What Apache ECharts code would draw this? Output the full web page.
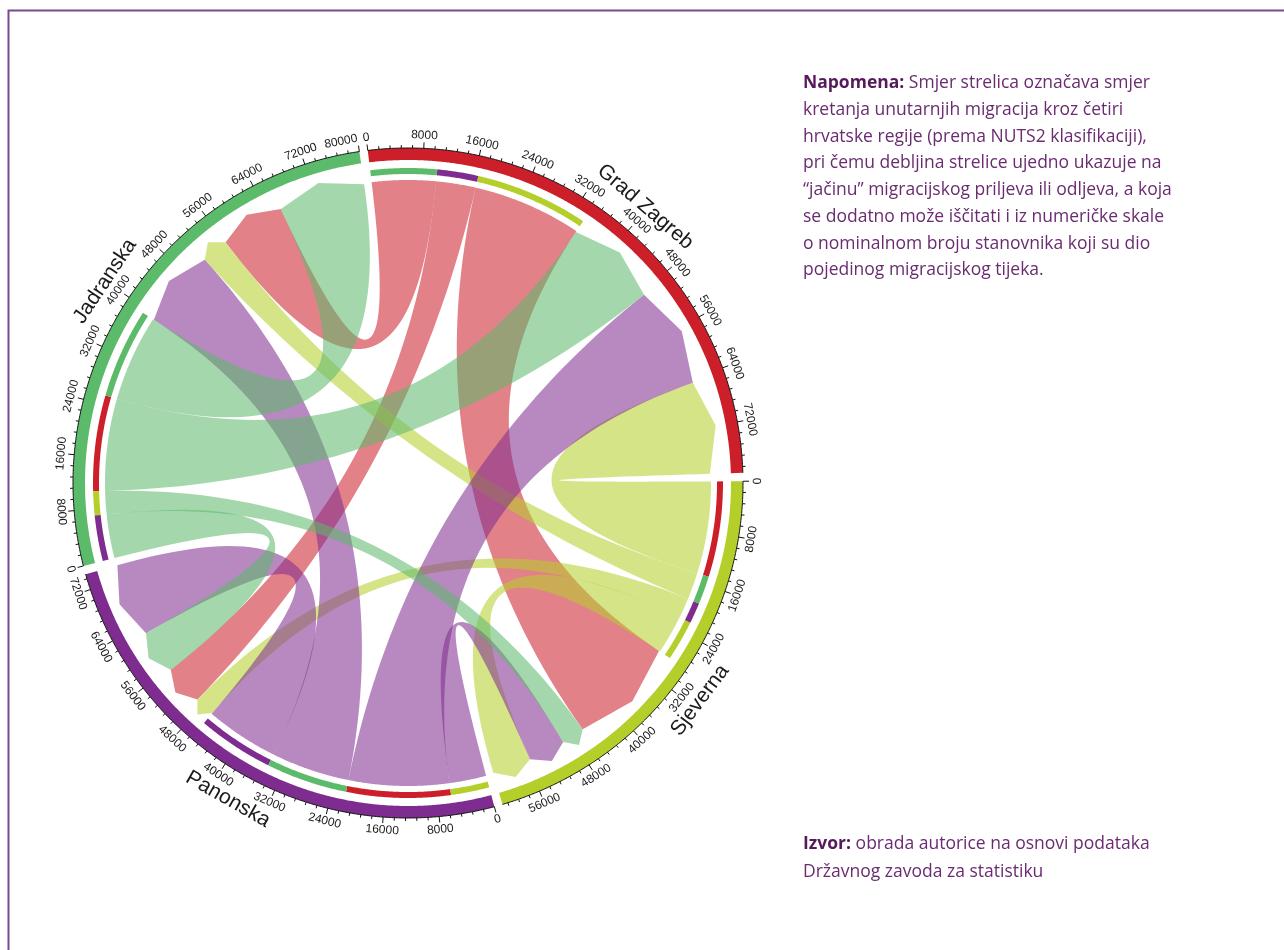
<!DOCTYPE html>
<html>
<head>
<meta charset="utf-8">
<title>Unutarnje migracije po NUTS2 regijama</title>
<script src="https://cdn.jsdelivr.net/npm/echarts@6/dist/echarts.min.js"></script>
<style>
  html, body { margin: 0; padding: 0; background: #fff; }
  #chart { width: 1284px; height: 950px; }
</style>
</head>
<body>
<div id="chart"></div>
<script>
// regije, redom u smjeru kazaljke na satu od vrha
const regions = ['Grad Zagreb', 'Sjeverna', 'Panonska', 'Jadranska']
// migracije: redak = odakle, stupac = kamo (redoslijed kao regions)
const fromZagreb = [0, 17400, 6300, 10200]
const fromSjeverna = [14700, 6200, 3200, 4300]
const fromPanonska = [16000, 5900, 11700, 12500]
const fromJadranska = [14700, 3700, 7000, 13800]
const flows = [fromZagreb, fromSjeverna, fromPanonska, fromJadranska]
// skala na obodu
const majorStep = 8000
const minorStep = 1600

const colors = ['#cd1f2a', '#b5cf2a', '#7e2c8f', '#5cba6b']

function sum(a) {
  return a.reduce((s, v) => s + v, 0)
}

const n = regions.length
const totals = regions.map((_, i) => sum(flows[i]) + sum(flows.map((row) => row[i])))
const flowTotal = sum(totals)
const gapDeg = 1.45
const gapUnits = (gapDeg / (360 - n * gapDeg)) * flowTotal
const circleUnits = flowTotal + n * gapUnits
const unitsPerRad = circleUnits / (2 * Math.PI)

const sectorStart = []
let acc = 0
for (let i = 0; i < n; i++) {
  sectorStart.push(acc)
  acc += totals[i] + gapUnits
}

// raspored krajeva veza unutar svake regije
const outSpan = {}
const inSpan = {}
for (let i = 0; i < n; i++) {
  const order = [1, 2, 3, 0].map((d) => (i + n - d) % n)
  let p = sectorStart[i]
  order.forEach((k) => {
    const v = flows[i][k]
    if (v > 0) {
      outSpan[i + '_' + k] = [p, p + v]
      p += v
    }
  })
  order.forEach((k) => {
    const v = flows[k][i]
    if (v > 0) {
      inSpan[k + '_' + i] = [p, p + v]
      p += v
    }
  })
}
const links = []
for (let i = 0; i < n; i++) {
  for (let k = 0; k < n; k++) {
    if (flows[i][k] > 0) {
      links.push({ src: i, tgt: k, s: outSpan[i + '_' + k], t: inSpan[i + '_' + k] })
    }
  }
}

const R = {
  ring: [323, 335],
  bar: [309, 315],
  src: 303,
  tgtBase: 302,
  tgtTip: 313,
  tickMajor: 341,
  tickMinor: 338,
  tickLabel: 348,
  name: 364,
}

function arc(api, r, u0, u1) {
  const steps = Math.max(2, Math.ceil(Math.abs(u1 - u0) / 200))
  const pts = []
  for (let j = 0; j <= steps; j++) {
    const p = api.coord([r, u0 + ((u1 - u0) * j) / steps])
    pts.push([p[0], p[1]])
  }
  return pts
}
function band(api, r0, r1, u0, u1) {
  return arc(api, r1, u0, u1).concat(arc(api, r0, u1, u0))
}
// kvadratna krivulja kroz središte kruga
function bezier(p0, c, p2) {
  const pts = []
  for (let j = 1; j <= 48; j++) {
    const t = j / 48
    const a = (1 - t) * (1 - t)
    const b = 2 * (1 - t) * t
    const d = t * t
    pts.push([a * p0[0] + b * c[0] + d * p2[0], a * p0[1] + b * c[1] + d * p2[1]])
  }
  return pts
}
// tangencijalni tekst, okrenut da se čita (donja polovica obrnuta)
function textRotation(p, c) {
  const a = p[3]
  return p[1] > c[1] + 0.5 ? a + Math.PI / 2 : a - Math.PI / 2
}

const chart = echarts.init(document.getElementById('chart'))

const textFont = 'Open Sans, Noto Sans, sans-serif'

const option = {
  animation: false,
  backgroundColor: '#fff',
  polar: { center: [408, 483], radius: 335 },
  angleAxis: {
    type: 'value',
    min: 0,
    max: circleUnits,
    startAngle: 96.9,
    clockwise: true,
    axisLine: { show: false },
    axisTick: { show: false },
    axisLabel: { show: false },
    splitLine: { show: false },
  },
  radiusAxis: {
    type: 'value',
    min: 0,
    max: 335,
    axisLine: { show: false },
    axisTick: { show: false },
    axisLabel: { show: false },
    splitLine: { show: false },
  },
  series: [
    // veze (strelice)
    {
      type: 'custom',
      coordinateSystem: 'polar',
      z: 1,
      data: links.map((l) => [l.src, l.tgt]),
      renderItem(params, api) {
        const l = links[params.dataIndex]
        const c = api.coord([0, 0])
        const src = arc(api, R.src, l.s[0], l.s[1])
        const a = api.coord([R.tgtBase, l.t[0]])
        const tip = api.coord([R.tgtTip, (l.t[0] + l.t[1]) / 2])
        const b = api.coord([R.tgtBase, l.t[1]])
        let pts = src.slice()
        pts = pts.concat(bezier(src[src.length - 1], c, [a[0], a[1]]))
        pts.push([tip[0], tip[1]])
        pts.push([b[0], b[1]])
        pts = pts.concat(bezier([b[0], b[1]], c, src[0]))
        return {
          type: 'polygon',
          shape: { points: pts },
          style: { fill: colors[l.src], opacity: 0.56 },
        }
      },
    },
    // unutarnje trake: boja odredišta
    {
      type: 'custom',
      coordinateSystem: 'polar',
      z: 2,
      data: links.map((l) => [l.src, l.tgt]),
      renderItem(params, api) {
        const l = links[params.dataIndex]
        return {
          type: 'polygon',
          shape: { points: band(api, R.bar[0], R.bar[1], l.s[0], l.s[1]) },
          style: { fill: colors[l.tgt] },
        }
      },
    },
    // vanjski prsten, skala i nazivi regija
    {
      type: 'custom',
      coordinateSystem: 'polar',
      z: 3,
      data: regions.map((_, i) => [i, totals[i]]),
      renderItem(params, api) {
        const i = params.dataIndex
        const u0 = sectorStart[i]
        const u1 = u0 + totals[i]
        const c = api.coord([0, 0])
        const children = [
          {
            type: 'polygon',
            shape: { points: band(api, R.ring[0], R.ring[1], u0, u1) },
            style: { fill: colors[i] },
          },
          {
            type: 'polyline',
            shape: { points: arc(api, R.ring[1], u0, u1) },
            style: { stroke: '#111', lineWidth: 1, fill: null },
          },
        ]
        const count = Math.floor(totals[i] / minorStep)
        for (let j = 0; j <= count; j++) {
          const v = j * minorStep
          const major = v % majorStep === 0
          const p1 = api.coord([R.ring[1], u0 + v])
          const p2 = api.coord([major ? R.tickMajor : R.tickMinor, u0 + v])
          children.push({
            type: 'line',
            shape: { x1: p1[0], y1: p1[1], x2: p2[0], y2: p2[1] },
            style: { stroke: '#111', lineWidth: 1 },
          })
          if (major) {
            const label = String(v)
            // zadnja oznaka ne smije prijeći kraj sektora
            const half = ((label.length * 6.7) / 2 / R.tickLabel) * unitsPerRad
            const at = v > 0 && v + half > totals[i] ? totals[i] - half : v
            const pl = api.coord([R.tickLabel, u0 + at])
            children.push({
              type: 'text',
              x: pl[0],
              y: pl[1],
              rotation: textRotation(pl, c),
              style: {
                text: label,
                fontSize: 12,
                fontFamily: 'Liberation Sans, Arial, sans-serif',
                fill: '#1a1a1a',
                align: 'center',
                verticalAlign: 'middle',
              },
            })
          }
        }
        const pn = api.coord([R.name, (u0 + u1) / 2])
        children.push({
          type: 'text',
          x: pn[0],
          y: pn[1],
          rotation: textRotation(pn, c),
          style: {
            text: regions[i],
            fontSize: 21,
            fontFamily: 'Liberation Sans, Arial, sans-serif',
            fill: '#1a1a1a',
            align: 'center',
            verticalAlign: 'middle',
          },
        })
        return { type: 'group', children }
      },
    },
  ],
  graphic: [
    {
      type: 'polyline',
      shape: { points: [[8.5, 950], [8.5, 10.5], [1284, 10.5]] },
      style: { stroke: '#7b4a8e', lineWidth: 2, fill: null },
    },
    {
      type: 'text',
      x: 803,
      y: 70,
      style: {
        text:
          '{b|Napomena:} Smjer strelica označava smjer\n' +
          'kretanja unutarnjih migracija kroz četiri\n' +
          'hrvatske regije (prema NUTS2 klasifikaciji),\n' +
          'pri čemu debljina strelice ujedno ukazuje na\n' +
          '“jačinu” migracijskog priljeva ili odljeva, a koja\n' +
          'se dodatno može iščitati i iz numeričke skale\n' +
          'o nominalnom broju stanovnika koji su dio\n' +
          'pojedinog migracijskog tijeka.',
        fill: '#6a2b70',
        fontSize: 17.5,
        fontFamily: textFont,
        lineHeight: 26.7,
        rich: {
          b: { fontWeight: 'bold', fill: '#561a5c', fontSize: 17.5, fontFamily: textFont, lineHeight: 26.7 },
        },
      },
    },
    {
      type: 'text',
      x: 803,
      y: 830,
      style: {
        text: '{b|Izvor:} obrada autorice na osnovi podataka\nDržavnog zavoda za statistiku',
        fill: '#6a2b70',
        fontSize: 17.5,
        fontFamily: textFont,
        lineHeight: 28,
        rich: {
          b: { fontWeight: 'bold', fill: '#561a5c', fontSize: 17.5, fontFamily: textFont, lineHeight: 28 },
        },
      },
    },
  ],
}

chart.setOption(option)
</script>
</body>
</html>
